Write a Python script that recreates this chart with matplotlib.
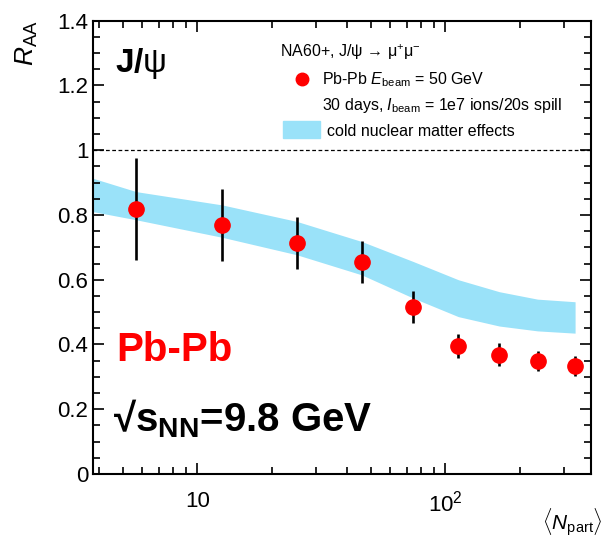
import numpy as np
from matplotlib import pyplot as plt
from matplotlib.ticker import FixedLocator, FixedFormatter, MultipleLocator, NullFormatter

plt.rcParams['font.family'] = ['Liberation Sans', 'DejaVu Sans']
plt.rcParams['mathtext.fontset'] = 'custom'
plt.rcParams['mathtext.rm'] = 'Liberation Sans'
plt.rcParams['mathtext.it'] = 'Liberation Sans:italic'
plt.rcParams['mathtext.bf'] = 'Liberation Sans:bold'

# NA60+ projection, J/psi R_AA vs <N_part>
npart = [5.68, 12.6, 25.2, 46.0, 74.3, 112.7, 164.8, 235, 333]
raa = [0.818, 0.769, 0.713, 0.655, 0.515, 0.395, 0.369, 0.349, 0.333]
raa_err = [0.158, 0.11, 0.081, 0.065, 0.05, 0.037, 0.035, 0.031, 0.03]

# cold nuclear matter band
band_x = [3.7, 5.68, 12.6, 25.2, 46.0, 74.3, 112.7, 164.8, 235, 333]
band_hi = [0.916, 0.872, 0.831, 0.78, 0.718, 0.656, 0.60, 0.563, 0.54, 0.532]
band_lo = [0.812, 0.785, 0.731, 0.677, 0.615, 0.543, 0.486, 0.457, 0.442, 0.435]

fig = plt.figure(figsize=(6.05, 5.37), dpi=100)
ax = fig.add_axes([0.1542, 0.1173, 0.8222, 0.8442])

ax.fill_between(band_x, band_lo, band_hi, color='#9ae2f9', linewidth=0)
ax.axhline(1.0, color='black', linestyle=(0, (3, 2)), linewidth=0.9)
ax.errorbar(npart, raa, yerr=raa_err, fmt='o', color='#ff0000', ecolor='black',
            elinewidth=1.9, markersize=11, capsize=0, zorder=5)

ax.set_xscale('log')
ax.set_xlim(3.81, 385)
ax.set_ylim(0, 1.4)

ax.xaxis.set_major_locator(FixedLocator([10, 100]))
ax.xaxis.set_major_formatter(FixedFormatter(['10', r'$10^2$']))
ax.xaxis.set_minor_locator(FixedLocator([4, 5, 6, 7, 8, 9, 20, 30, 40, 50, 60, 70, 80, 90, 200, 300]))
ax.xaxis.set_minor_formatter(NullFormatter())
ax.yaxis.set_minor_locator(MultipleLocator(0.05))
ax.set_yticks([0, 0.2, 0.4, 0.6, 0.8, 1.0, 1.2, 1.4], ['0', '0.2', '0.4', '0.6', '0.8', '1', '1.2', '1.4'])

ax.tick_params(which='both', direction='in', top=True, right=True, width=1.2, labelsize=16)
ax.tick_params(which='major', length=8)
ax.tick_params(which='minor', length=5)
ax.tick_params(axis='x', which='major', pad=12)
for sp in ax.spines.values():
    sp.set_linewidth(1.5)

fig.text(0.045, 1 - 20 / 537, r'$R_{\rm AA}$', rotation=90, ha='center', va='top', fontsize=19)
fig.text(0.995, 1 - 522 / 537, r'$\langle N_{\rm part}\rangle$', ha='right', va='center', fontsize=15)

# big labels
fig.text(115 / 605, 1 - 72 / 537, r'$\mathbf{J/}\mathrm{ψ}$', fontsize=24, ha='left', va='baseline')
fig.text(116 / 605, 1 - 361 / 537, 'Pb-Pb', fontsize=29, fontweight='bold', color='#ff0000',
         ha='left', va='baseline')
fig.text(113 / 605, 1 - 431 / 537, '\u221a' + r'$\mathbf{s_{NN}}$=9.8 GeV', fontsize=29,
         fontweight='bold', ha='left', va='baseline')

# legend
fs = 11.5
fig.text(280 / 605, 1 - 57 / 537, r'NA60+, J/ψ → μ$^{+}$μ$^{-}$', fontsize=fs, va='baseline')
fig.lines.append(plt.Line2D([301.7 / 605], [1 - 78.5 / 537], marker='o', color='#ff0000', markersize=9,
                            transform=fig.transFigure, figure=fig))
fig.text(322 / 605, 1 - 84 / 537, r'Pb-Pb $E_{\rm beam}$ = 50 GeV', fontsize=fs, va='baseline')
fig.text(322 / 605, 1 - 110 / 537, r'30 days, $I_{\rm beam}$ = 1e7 ions/20s spill', fontsize=fs, va='baseline')
fig.patches.append(plt.Rectangle((283 / 605, 1 - 138 / 537), 36.5 / 605, 17 / 537, color='#9ae2f9',
                                 transform=fig.transFigure, figure=fig))
fig.text(327 / 605, 1 - 136 / 537, 'cold nuclear matter effects', fontsize=fs, va='baseline')

plt.savefig('out.png', dpi=100)
